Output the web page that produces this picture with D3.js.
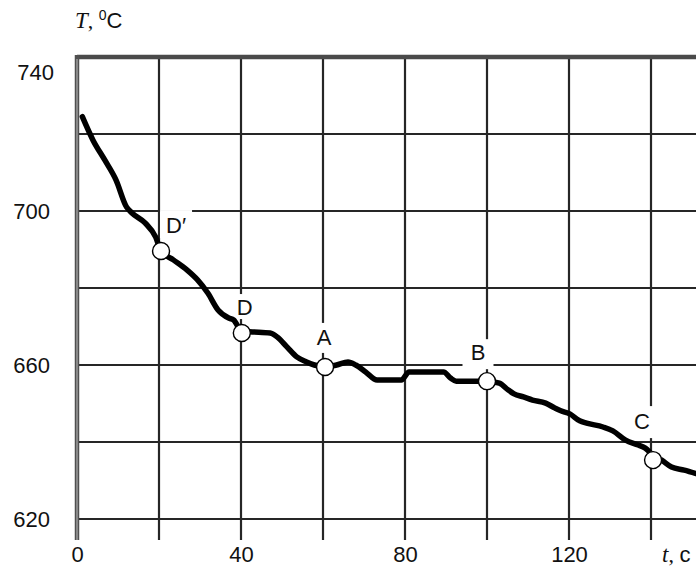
<!DOCTYPE html>
<html>
<head>
<meta charset="utf-8">
<script src="https://cdn.jsdelivr.net/npm/d3@7"></script>
<style>
  html, body { margin: 0; padding: 0; background: #fff; }
  svg { display: block; }
  .num { font-family: "Liberation Sans", Arial, sans-serif; font-size: 22px; fill: #111; }
</style>
</head>
<body>
<svg id="chart" width="696" height="567"></svg>
<script>
// ---- data ----
const timeValues = [1.3, 3.9, 6.8, 9.5, 12.1, 13.4, 16.6, 19.2, 20.5, 23.5, 26.8, 29.4, 31.9, 34.4, 37.0, 38.2, 40.2,
  42.8, 47.1, 48.8, 51.2, 53.6, 56.0, 57.9, 60.5, 63.3, 66.1, 68.0, 70.4, 73.2, 79.1, 81.0, 82.9, 89.4, 91.1, 92.5,
  98.3, 100, 103, 105.2, 106.6, 108.9, 111.1, 114.3, 116.6, 118.0, 120.2, 122.6, 124.3, 128.3, 130.7, 133.8, 136.9,
  138.6, 140.5, 142.6, 145, 148.1, 151];
const tempValues = [724.5, 718.4, 713.2, 708.1, 701.0, 699.5, 696.9, 693.2, 689.6, 687.3, 684.7, 682.1, 678.7, 674.3, 672.2, 671.7, 668.8,
  668.6, 668.3, 667.3, 664.7, 662.1, 660.8, 660.0, 659.5, 660.0, 660.8, 660.0, 658.2, 656.1, 656.1, 658.2, 658.2, 658.2, 656.6, 655.8,
  655.8, 655.8, 655.3, 653.5, 652.5, 651.7, 650.9, 650.1, 648.8, 648.1, 647.3, 645.5, 644.9, 643.9, 642.9, 640.5, 639.2,
  638.4, 636.6, 635.3, 633.5, 632.7, 631.8];

const markerNames = ["D\u2032", "D", "A", "B", "C"];
const markerTime = [20.5, 40.2, 60.5, 100, 140.5];
const markerTemp = [689.6, 668.3, 659.5, 655.8, 635.3];

const xTickLabels = [0, 40, 80, 120];
const yTickLabels = [620, 660, 700, 740];
const xGrid = [20, 40, 60, 80, 100, 120, 140];
const yGrid = [620, 640, 660, 680, 700, 720];

// ---- layout ----
const svg = d3.select("#chart");
const x = d3.scaleLinear().domain([0, 140]).range([77, 651]);
const y = d3.scaleLinear().domain([620, 740]).range([519, 57]);
const xMax = x.invert(696), yMin = y.invert(540);

// label offsets relative to marker (layout); box top/bottom relative to label centre
const labelLayout = {
  "D\u2032": { dx: 15, dy: -26, w: 32, top: -15, bottom: 13 },
  "D": { dx: 3, dy: -26, w: 21, top: -13, bottom: 12 },
  "A": { dx: -1, dy: -30, w: 25, top: -14, bottom: 16 },
  "B": { dx: -9, dy: -29, w: 31, top: -13, bottom: 17 },
  "C": { dx: -11, dy: -39, w: 30, top: -15, bottom: 17 }
};

// grid
const g = svg.append("g");
g.selectAll("line.v").data(xGrid).join("line")
  .attr("x1", d => x(d)).attr("x2", d => x(d))
  .attr("y1", y(740)).attr("y2", y(yMin))
  .attr("stroke", "#262626").attr("stroke-width", 2.2);
g.selectAll("line.h").data(yGrid).join("line")
  .attr("x1", x(0)).attr("x2", x(xMax))
  .attr("y1", d => y(d)).attr("y2", d => y(d))
  .attr("stroke", "#262626").attr("stroke-width", 2.2);
// top border
g.append("line").attr("x1", x(0)).attr("x2", x(xMax)).attr("y1", y(740)).attr("y2", y(740))
  .attr("stroke", "#4a4a4a").attr("stroke-width", 4.5);
// left axis (thick double-looking line)
g.append("line").attr("x1", x(0)).attr("x2", x(0)).attr("y1", y(740) - 2).attr("y2", y(yMin))
  .attr("stroke", "#505050").attr("stroke-width", 4.5);
g.append("line").attr("x1", x(0)).attr("x2", x(0)).attr("y1", y(740) + 2).attr("y2", y(yMin))
  .attr("stroke", "#9a9a9a").attr("stroke-width", 1.5);

// label backgrounds
const mk = markerNames.map((n, i) => ({ name: n, t: markerTime[i], T: markerTemp[i] }));
svg.selectAll("rect.lb").data(mk).join("rect")
  .attr("x", d => x(d.t) + labelLayout[d.name].dx - labelLayout[d.name].w / 2)
  .attr("y", d => y(d.T) + labelLayout[d.name].dy + labelLayout[d.name].top)
  .attr("width", d => labelLayout[d.name].w)
  .attr("height", d => labelLayout[d.name].bottom - labelLayout[d.name].top)
  .attr("fill", "#fff");

// curve
const data = timeValues.map((t, i) => [t, tempValues[i]]);
const line = d3.line().x(d => x(d[0])).y(d => y(d[1])).curve(d3.curveMonotoneX);
svg.append("path").attr("d", line(data))
  .attr("fill", "none").attr("stroke", "#000").attr("stroke-width", 5.5)
  .attr("stroke-linejoin", "round").attr("stroke-linecap", "round");

// markers
svg.selectAll("circle.m").data(mk).join("circle")
  .attr("cx", d => x(d.t)).attr("cy", d => y(d.T)).attr("r", 8.5)
  .attr("fill", "#fff").attr("stroke", "#000").attr("stroke-width", 1.4);

// marker labels
svg.selectAll("text.ml").data(mk).join("text")
  .attr("class", "num")
  .attr("x", d => x(d.t) + labelLayout[d.name].dx)
  .attr("y", d => y(d.T) + labelLayout[d.name].dy)
  .attr("text-anchor", "middle").attr("dy", "0.36em")
  .text(d => d.name);

// axes labels
const xAxis = svg.append("g").attr("transform", `translate(0,${y(yMin)})`)
  .call(d3.axisBottom(x).tickValues(xTickLabels).tickSize(0).tickPadding(6).tickFormat(d3.format("d")));
const yAxis = svg.append("g").attr("transform", `translate(${x(0)},0)`)
  .call(d3.axisLeft(y).tickValues(yTickLabels).tickSize(0).tickPadding(27).tickFormat(d3.format("d")));
[xAxis, yAxis].forEach(a => {
  a.select(".domain").remove();
  a.attr("font-size", null).attr("font-family", null);
  a.selectAll("text").attr("class", "num").attr("fill", null);
});
// the top label sits a little below its line in the reference
yAxis.selectAll(".tick").filter(d => d === 740).select("text").attr("y", 15).attr("x", -23);

// axis titles
const tt = svg.append("text").attr("x", 75).attr("y", 28).attr("class", "num");
tt.append("tspan").attr("font-family", "'Liberation Serif', 'Times New Roman', serif").attr("font-style", "italic").attr("font-size", "23px").text("T");
tt.append("tspan").attr("font-family", "'Liberation Serif', serif").text(", ");
tt.append("tspan").attr("font-size", "14px").attr("dy", "-8").text("0");
tt.append("tspan").attr("dy", "8").text("C");

const xt = svg.append("text").attr("x", 662).attr("y", 562).attr("class", "num");
xt.append("tspan").attr("font-family", "'Liberation Serif', 'Times New Roman', serif").attr("font-style", "italic").attr("font-size", "23px").text("t");
xt.append("tspan").attr("font-family", "'Liberation Serif', serif").text(", ");
xt.append("tspan").text("c");
</script>
</body>
</html>
